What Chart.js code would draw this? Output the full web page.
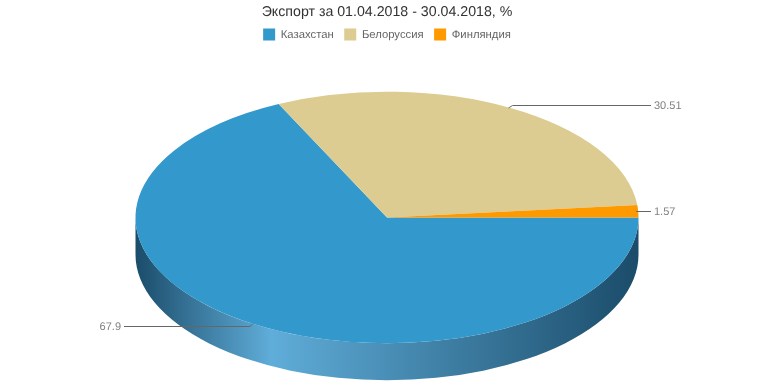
<!DOCTYPE html>
<html>
<head>
<meta charset="utf-8">
<title>Экспорт</title>
<script src="https://cdn.jsdelivr.net/npm/chart.js@4"></script>
<style>
  html, body { margin: 0; padding: 0; background: #fff; }
  #wrap { position: relative; width: 774px; height: 387px; }
</style>
</head>
<body>
<div id="wrap"><canvas id="grafico"></canvas></div>
<script>
const titulo = 'Экспорт за 01.04.2018 - 30.04.2018, %';
const paises = ['Казахстан', 'Белоруссия', 'Финляндия'];
const valores = [67.9, 30.51, 1.57];
const cores = ['#3398cc', '#dccc91', '#ff9900'];

// pie is drawn as a circle and squashed to look tilted
const RAIO = 251.5;
const ACHATAMENTO = 0.5;
const CENTRO_Y = 217.5;
const PROFUNDIDADE = 37;

const pizza3d = {
    id: 'pizza3d',
    beforeLayout(chart) {
        chart.ctx.textRendering = 'geometricPrecision';
    },
    beforeDraw(chart) {
        chart.ctx.textRendering = 'geometricPrecision';
    },
    beforeDatasetsDraw(chart) {
        const ctx = chart.ctx;
        const arcos = chart.getDatasetMeta(0).data;
        const cx = arcos[0].x;
        const ry = RAIO * ACHATAMENTO;

        // side wall, only the front half is visible
        const grad = ctx.createLinearGradient(cx - RAIO, 0, cx + RAIO, 0);
        grad.addColorStop(0, '#1b4c6a');
        grad.addColorStop(0.27, '#5fadd9');
        grad.addColorStop(1, '#1b4c6a');

        arcos.forEach(a => {
            const ini = Math.max(a.startAngle, 0);
            const fim = Math.min(a.endAngle, Math.PI);
            if (fim <= ini) return;
            ctx.beginPath();
            ctx.ellipse(cx, CENTRO_Y, RAIO, ry, 0, ini, fim);
            ctx.ellipse(cx, CENTRO_Y + PROFUNDIDADE, RAIO, ry, 0, fim, ini, true);
            ctx.closePath();
            ctx.fillStyle = grad;
            ctx.fill();
        });

        ctx.save();
        ctx.translate(cx, CENTRO_Y);
        ctx.scale(1, ACHATAMENTO);
        ctx.translate(-cx, -arcos[0].y);
    },
    afterDatasetsDraw(chart) {
        chart.ctx.restore();
    },
    afterDraw(chart) {
        const ctx = chart.ctx;
        const arcos = chart.getDatasetMeta(0).data;
        const ry = RAIO * ACHATAMENTO;

        ctx.save();
        ctx.font = '11px "Liberation Sans"';
        ctx.textBaseline = 'middle';
        arcos.forEach((a, i) => {
            const meio = (a.startAngle + a.endAngle) / 2;
            const px = a.x + Math.cos(meio) * RAIO;
            const py = CENTRO_Y + Math.sin(meio) * ry;
            const direita = Math.cos(meio) > 0;
            const pequeno = valores[i] < 5;
            const dy = pequeno ? 0 : (Math.sin(meio) > 0 ? 2.5 : -3);
            const linhaY = Math.round(py + dy) + 0.5;
            const fimX = direita ? 651 : 124;

            ctx.beginPath();
            ctx.moveTo(px - (direita ? 2 : 0), pequeno ? linhaY : py);
            if (!pequeno) ctx.lineTo(px + (direita ? 2 : -3), linhaY);
            ctx.lineTo(fimX, linhaY);
            ctx.strokeStyle = '#666666';
            ctx.lineWidth = 1;
            ctx.stroke();

            ctx.fillStyle = '#808080';
            ctx.textAlign = direita ? 'left' : 'right';
            ctx.fillText(String(valores[i]), fimX + (direita ? 3 : -3), linhaY);
        });
        ctx.restore();
    }
};

new Chart(document.getElementById('grafico'), {
    type: 'pie',
    data: {
        labels: paises,
        datasets: [{
            data: valores,
            backgroundColor: cores,
            borderWidth: 0,
            radius: RAIO,
            clip: false
        }]
    },
    options: {
        responsive: true,
        maintainAspectRatio: false,
        animation: false,
        rotation: 90,
        plugins: {
            tooltip: { enabled: false },
            title: {
                display: true,
                text: titulo,
                color: '#333333',
                font: { family: '"Liberation Sans"', size: 14.2, weight: 'normal' },
                padding: { top: 4, bottom: -3 }
            },
            legend: {
                position: 'top',
                labels: {
                    boxWidth: 12,
                    boxHeight: 12,
                    color: '#666666',
                    padding: 10.5,
                    font: { family: '"Liberation Sans"', size: 11.3 }
                }
            }
        }
    },
    plugins: [pizza3d]
});
</script>
</body>
</html>
